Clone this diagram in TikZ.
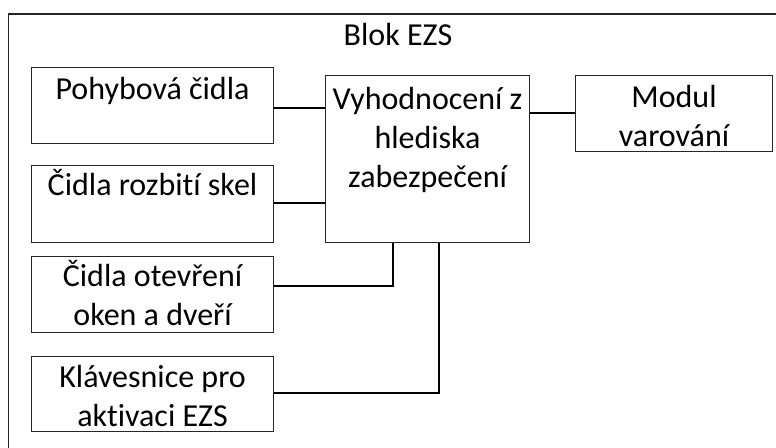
\documentclass[tikz,border=0pt]{standalone}
\usepackage{fontspec}
\setmainfont[Ligatures={NoCommon,NoRare,NoContextual},RawFeature={-liga;-dlig;-clig}]{Carlito}
\begin{document}
\begin{tikzpicture}[x=1pt,y=-1pt,
  frame/.style={draw=black!85,line width=1.1pt},
  blockbox/.style={frame,rectangle,inner sep=0pt,anchor=north west},
  blocklabel/.style={anchor=base,inner sep=0pt,align=center,font=\fontsize{32}{39}\selectfont},
  wire/.style={draw=black,line width=1.1pt}]
  \useasboundingbox (0,0) rectangle (776,447);
  % enclosing system block, extends past the page edge
  \begin{scope}
    \clip (0,0) rectangle (776,447);
    \draw[frame] (8.5,14) rectangle (800,470);
  \end{scope}
  \node[blocklabel] (title) at (398,45) {Blok EZS};

  % boxes
  \node[blockbox,minimum width=242pt,minimum height=76pt] (pohyb) at (31,67) {};
  \node[blockbox,minimum width=242pt,minimum height=77pt] (skla) at (31,165) {};
  \node[blockbox,minimum width=242pt,minimum height=76pt] (okna) at (31,256) {};
  \node[blockbox,minimum width=242pt,minimum height=75pt] (klav) at (31,356) {};
  \node[blockbox,minimum width=204pt,minimum height=167pt] (vyhod) at (325,75) {};
  \node[blockbox,minimum width=197pt,minimum height=76pt] (modul) at (575,75) {};

  % labels; the base anchor of a multi-line label is its last line
  \node[blocklabel] (pohyb-t) at ([yshift=-32pt]pohyb.north) {Pohybová čidla};
  \node[blocklabel] (skla-t) at ([yshift=-30pt]skla.north) {Čidla rozbití skel};
  \node[blocklabel] (okna-t) at ([yshift=-69pt]okna.north) {Čidla otevření\\oken a dveří};
  \node[blocklabel] (klav-t) at ([yshift=-70pt]klav.north) {Klávesnice pro\\aktivaci EZS};
  \node[blocklabel] (vyhod-t) at ([yshift=-112pt]vyhod.north) {Vyhodnocení z\\hlediska\\zabezpečení};
  \node[blocklabel] (modul-t) at ([yshift=-71pt]modul.north) {Modul\\varování};

  % connections
  \draw[wire] (pohyb.east |- 0,108) -- (vyhod.west |- 0,108);
  \draw[wire] (skla.east |- 0,203) -- (vyhod.west |- 0,203);
  \draw[wire] (okna.east |- 0,286) -| (vyhod.south -| 393,0);
  \draw[wire] (klav.east |- 0,393) -| (vyhod.south -| 439,0);
  \draw[wire] (vyhod.east |- 0,113) -- (modul.west |- 0,113);
\end{tikzpicture}
\end{document}
